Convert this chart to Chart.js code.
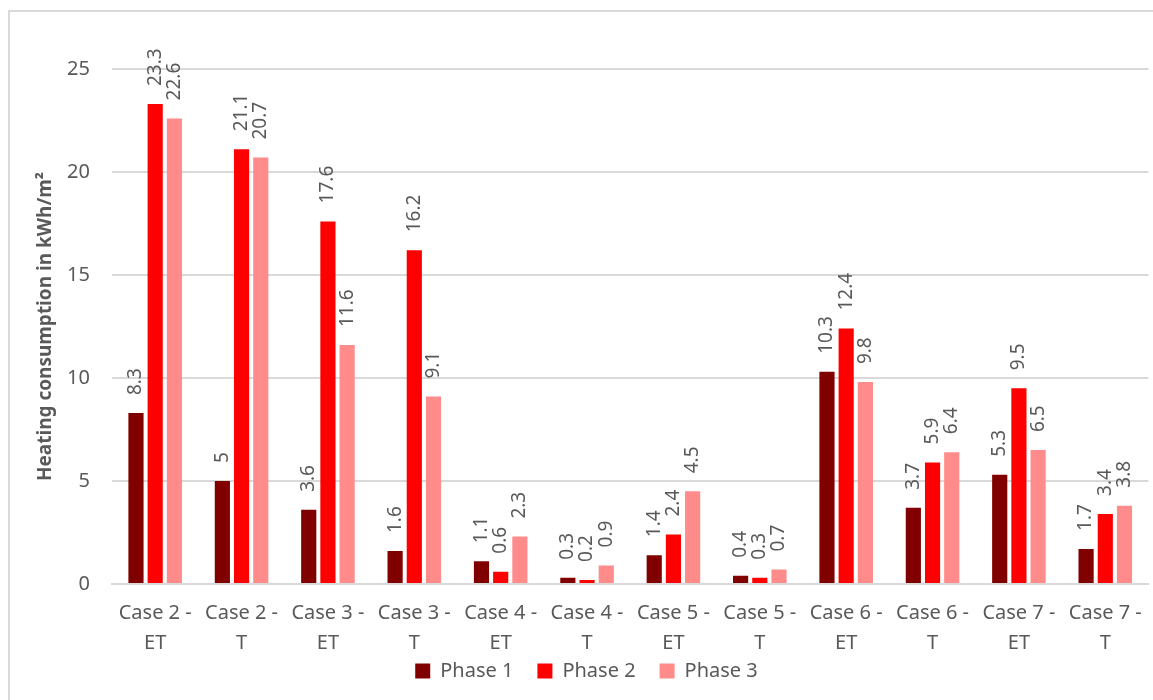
<!DOCTYPE html>
<html>
<head>
<meta charset="utf-8">
<script src="https://cdn.jsdelivr.net/npm/chart.js@4"></script>
<style>
  html, body { margin: 0; background: #fff; overflow: hidden; }
  #wrap {
    position: absolute; left: 8px; top: 10px;
    width: 1150px; height: 700px;
    border: 2px solid #d9d9d9; box-sizing: border-box;
  }
</style>
</head>
<body>
<div id="wrap"><canvas id="myChart"></canvas></div>
<script>
const labels = [
  ['Case 2 -', 'ET'], ['Case 2 -', 'T'],
  ['Case 3 -', 'ET'], ['Case 3 -', 'T'],
  ['Case 4 -', 'ET'], ['Case 4 -', 'T'],
  ['Case 5 -', 'ET'], ['Case 5 -', 'T'],
  ['Case 6 -', 'ET'], ['Case 6 -', 'T'],
  ['Case 7 -', 'ET'], ['Case 7 -', 'T'],
];
const phase1 = [8.3, 5, 3.6, 1.6, 1.1, 0.3, 1.4, 0.4, 10.3, 3.7, 5.3, 1.7];
const phase2 = [23.3, 21.1, 17.6, 16.2, 0.6, 0.2, 2.4, 0.3, 12.4, 5.9, 9.5, 3.4];
const phase3 = [22.6, 20.7, 11.6, 9.1, 2.3, 0.9, 4.5, 0.7, 9.8, 6.4, 6.5, 3.8];

const FONT = "'Noto Sans', sans-serif";
const GREY = '#595959';

// value labels written upward above each bar
const barValues = {
  id: 'barValues',
  afterDatasetsDraw(chart) {
    const ctx = chart.ctx;
    ctx.save();
    ctx.fillStyle = GREY;
    ctx.font = '19px ' + FONT;
    ctx.textAlign = 'left';
    ctx.textBaseline = 'middle';
    chart.data.datasets.forEach((ds, i) => {
      chart.getDatasetMeta(i).data.forEach((bar, j) => {
        ctx.save();
        ctx.translate(bar.x, bar.y - 18);
        ctx.rotate(-Math.PI / 2);
        ctx.fillText(String(ds.data[j]), 0, 0);
        ctx.restore();
      });
    });
    ctx.restore();
  }
};

// x axis box is squeezed so the legend sits close; let its labels draw past it
const unclipX = {
  id: 'unclipX',
  afterLayout(chart) {
    chart.scales.x.bottom += 40;
  }
};

const data = {
  labels: labels,
  datasets: [
    { label: 'Phase 1', data: phase1, backgroundColor: '#800000' },
    { label: 'Phase 2', data: phase2, backgroundColor: '#ff0000' },
    { label: 'Phase 3', data: phase3, backgroundColor: '#ff8b8b' },
  ]
};

const config = {
  type: 'bar',
  data: data,
  options: {
    responsive: true,
    maintainAspectRatio: false,
    animation: false,
    categoryPercentage: 0.667,
    barPercentage: 0.79,
    layout: { padding: { top: 57, right: 5, left: 12, bottom: 17 } },
    plugins: {
      legend: {
        position: 'bottom',
        labels: {
          boxWidth: 15, boxHeight: 15, color: GREY,
          font: { family: FONT, size: 20, lineHeight: 1 }, padding: 24
        }
      },
      tooltip: { enabled: false }
    },
    scales: {
      x: {
        grid: { display: false, drawTicks: false },
        border: { color: '#d9d9d9', width: 2 },
        ticks: {
          color: GREY, font: { family: FONT, size: 20, lineHeight: 1.5 },
          maxRotation: 0, autoSkip: false, padding: 14
        },
        afterFit: s => { s.height -= 35; }
      },
      y: {
        min: 0, max: 25,
        ticks: { stepSize: 5, color: GREY, font: { family: FONT, size: 20 }, padding: 22 },
        grid: { color: '#d9d9d9', lineWidth: 2, drawTicks: false },
        border: { display: false },
        title: {
          display: true, text: 'Heating consumption in kWh/m²', color: GREY,
          font: { family: FONT, size: 19, weight: 'bold' }, padding: { top: 12, bottom: 4 }
        },
        afterFit: s => { s.width = 90; }
      }
    }
  },
  plugins: [barValues, unclipX]
};

const myChart = new Chart(document.getElementById('myChart'), config);
</script>
</body>
</html>
